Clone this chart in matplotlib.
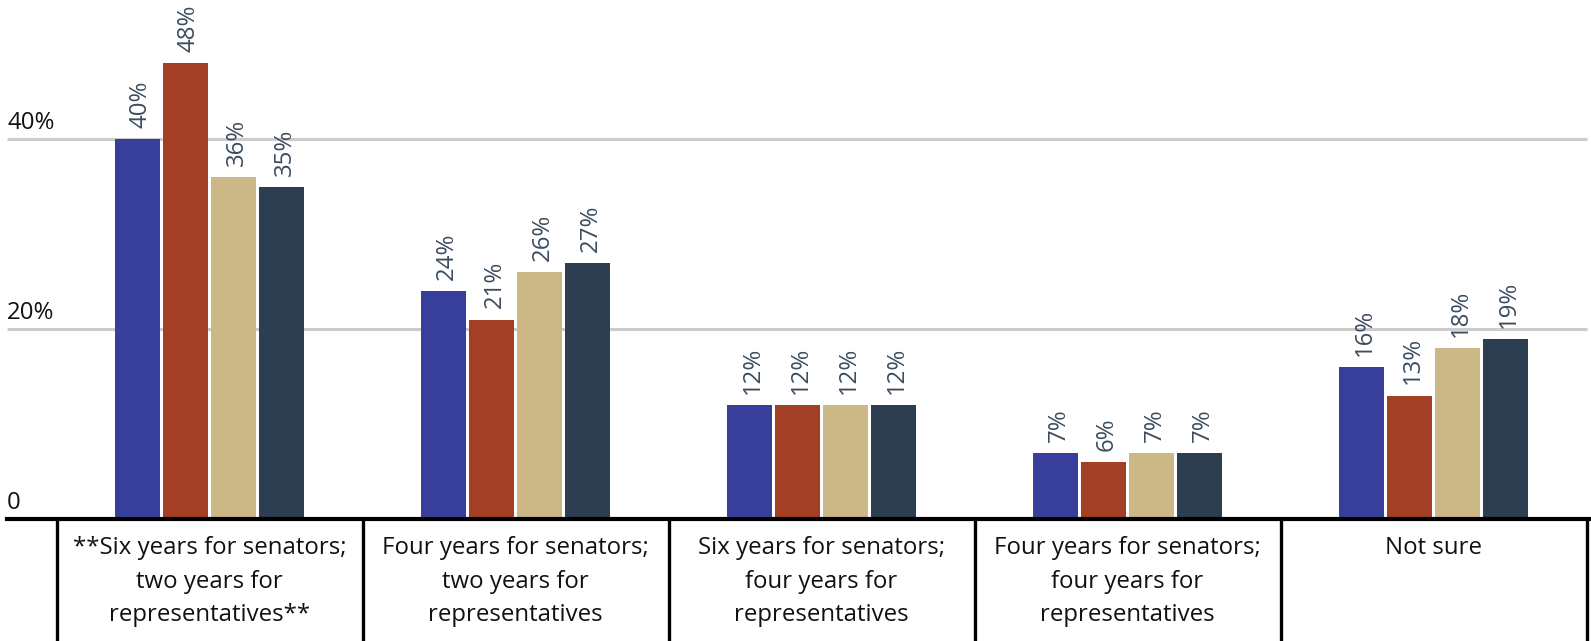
import matplotlib.pyplot as plt
import numpy as np

plt.rcParams['font.family'] = ['Open Sans', 'DejaVu Sans']

# data
categories = [
    '**Six years for senators;\ntwo years for\nrepresentatives**',
    'Four years for senators;\ntwo years for\nrepresentatives',
    'Six years for senators;\nfour years for\nrepresentatives',
    'Four years for senators;\nfour years for\nrepresentatives',
    'Not sure',
]
series_a = [40, 24, 12, 7, 16]
series_b = [48, 21, 12, 6, 13]
series_c = [36, 26, 12, 7, 18]
series_d = [35, 27, 12, 7, 19]
y_ticks = [0, 20, 40]
y_tick_labels = ['0', '20%', '40%']

colors = ['#383f9b', '#a33f24', '#cbb886', '#2d3e50']
label_color = '#3a4c5e'

W, H = 1591, 641
px_x = 306.0   # pixels per category
px_y = 9.5     # pixels per percent
base_px = 519  # baseline, from top

fig = plt.figure(figsize=(W / 100, H / 100), dpi=100)
ax = fig.add_axes([7 / W, (H - base_px) / H, 1 - 7 / W, base_px / H])
x_left = (7 - 209.5) / px_x
x_right = (W - 209.5) / px_x
ax.set_xlim(x_left, x_right)
ax.set_ylim(0, base_px / px_y)
ax.axis('off')

fs = 17.3

# gridlines
for t in y_ticks[1:]:
    ax.hlines(t, x_left, 4.5, color='#cccccc', lw=2.2, zorder=0)
for t, lab in zip(y_ticks, y_tick_labels):
    ax.text(x_left, t + 10 / px_y, lab, ha='left', va='baseline',
            fontsize=fs, color='#111111')

x = np.arange(len(categories))
bw = 45 / px_x
pitch = 48 / px_x
all_series = [series_a, series_b, series_c, series_d]
for j, (vals, c) in enumerate(zip(all_series, colors)):
    xs = x + (j - 1.5) * pitch
    ax.bar(xs, vals, width=bw, color=c, zorder=2)
    for xi, v in zip(xs, vals):
        ax.text(xi, v + 11 / px_y, f'{v}%', rotation=90, rotation_mode='anchor',
                ha='left', va='center_baseline', fontsize=fs, color=label_color)

# baseline and category boxes
ax.axhline(0, color='black', lw=3, zorder=3, clip_on=False)
y_bot = -(H - base_px) / px_y
for s in np.arange(-0.5, 5.0, 1.0):
    ax.vlines(s, y_bot, 0, color='black', lw=2.4, clip_on=False, zorder=3)
for i, cat in enumerate(categories):
    ax.text(i, -17 / px_y, cat, ha='center', va='top', fontsize=fs,
            linespacing=1.53, color='#111111', clip_on=False)

fig.savefig('out.png', dpi=100)
